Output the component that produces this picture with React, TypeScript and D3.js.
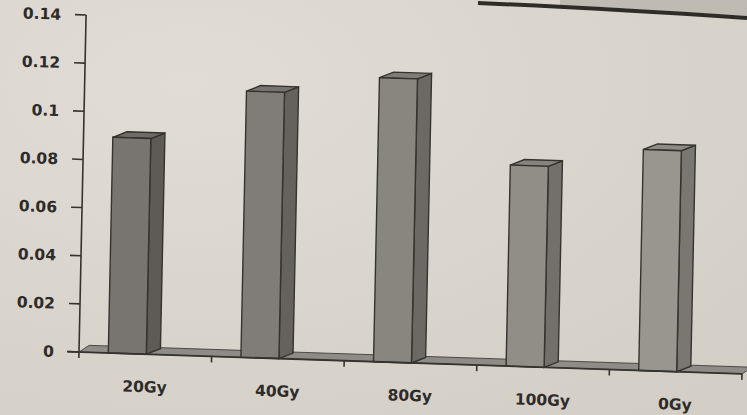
import React from "react";
import * as d3 from "d3";

const categories = ["20Gy", "40Gy", "80Gy", "100Gy", "0Gy"];
const values = [0.0896, 0.1106, 0.118, 0.0835, 0.0918];
const yTicks = [0, 0.02, 0.04, 0.06, 0.08, 0.1, 0.12, 0.14];
const yTickLabels = ["0", "0.02", "0.04", "0.06", "0.08", "0.1", "0.12", "0.14"];

const W = 747;
const H = 415;

export default function App() {
  const x = d3.scaleBand<string>().domain(categories).range([0, 663]).padding(0);
  const y = d3.scaleLinear().domain([0, 0.14]).range([0, -337]);
  const bw = x.bandwidth();
  const dx = 14;
  const dy = -6;
  const frontW = 38;
  const shade = d3.scaleLinear<string>().domain([0, categories.length - 1]).range(["#78746f", "#99958f"]);
  const sideShade = d3.scaleLinear<string>().domain([0, categories.length - 1]).range(["#5e5a56", "#7a7671"]);
  const topShade = d3.scaleLinear<string>().domain([0, categories.length - 1]).range(["#6f6b67", "#8e8a85"]);
  const stroke = "#36332f";
  const font = "'DejaVu Sans', Verdana, sans-serif";
  const pts = (p: [number, number][]) => p.map((q) => q.join(",")).join(" ");
  const boundaries = d3.range(categories.length + 1).map((i) => i * bw);

  return (
    <svg width={W} height={H} style={{ position: "absolute", left: 0, top: 0 }}>
      <defs>
        <radialGradient id="bg" cx="0.25" cy="0.2" r="1">
          <stop offset="0" stopColor="#e1ddd6" />
          <stop offset="1" stopColor="#d3cec6" />
        </radialGradient>
      </defs>
      <rect x={0} y={0} width={W} height={H} fill="url(#bg)" />
      <path d="M560,0 L747,0 L747,16 Q640,9 560,5 Z" fill="#bfbab2" />
      <path d="M478,3 Q600,8 747,18" fill="none" stroke="#2f2b27" strokeWidth={4} />
      <g transform="matrix(1,0.033,-0.021,1,79,352)">
        {/* floor */}
        <polygon points={pts([[0, 0], [10, -7], [673, -7], [663, 0]])} fill="#8f8b86" stroke={stroke} strokeWidth={0.8} />
        {/* y axis */}
        <line x1={0} y1={0} x2={0} y2={y(0.14)} stroke={stroke} strokeWidth={1.6} />
        {yTicks.map((t, i) => (
          <g key={t}>
            <line x1={-11} x2={0} y1={y(t)} y2={y(t)} stroke={stroke} strokeWidth={1.6} />
            <text x={-25} y={y(t)} dy="0.36em" textAnchor="end" fontFamily={font} fontWeight="bold" fontSize={15.5} fill="#2e2b28">
              {yTickLabels[i]}
            </text>
          </g>
        ))}
        {/* bars */}
        {categories.map((c, i) => {
          const cx = (x(c) as number) + bw / 2;
          const fl = cx - 37;
          const fr = fl + frontW;
          const yt = y(values[i]);
          return (
            <g key={c}>
              <polygon points={pts([[fr, 0], [fr + dx, dy], [fr + dx, yt + dy], [fr, yt]])} fill={sideShade(i)} stroke={stroke} strokeWidth={1.4} />
              <polygon points={pts([[fl, yt], [fl + dx, yt + dy], [fr + dx, yt + dy], [fr, yt]])} fill={topShade(i)} stroke={stroke} strokeWidth={1.4} />
              <rect x={fl} y={yt} width={frontW} height={-yt} fill={shade(i)} stroke={stroke} strokeWidth={1.4} />
            </g>
          );
        })}
        {/* x axis */}
        <line x1={-12} x2={663} y1={0} y2={0} stroke={stroke} strokeWidth={1.8} />
        {boundaries.map((b) => (
          <line key={b} x1={b} x2={b} y1={0} y2={6} stroke={stroke} strokeWidth={1.6} />
        ))}
        {categories.map((c) => (
          <text key={c} x={(x(c) as number) + bw / 2} y={38} textAnchor="middle" fontFamily={font} fontWeight="bold" fontSize={15.5} fill="#2e2b28">
            {c}
          </text>
        ))}
      </g>
    </svg>
  );
}
